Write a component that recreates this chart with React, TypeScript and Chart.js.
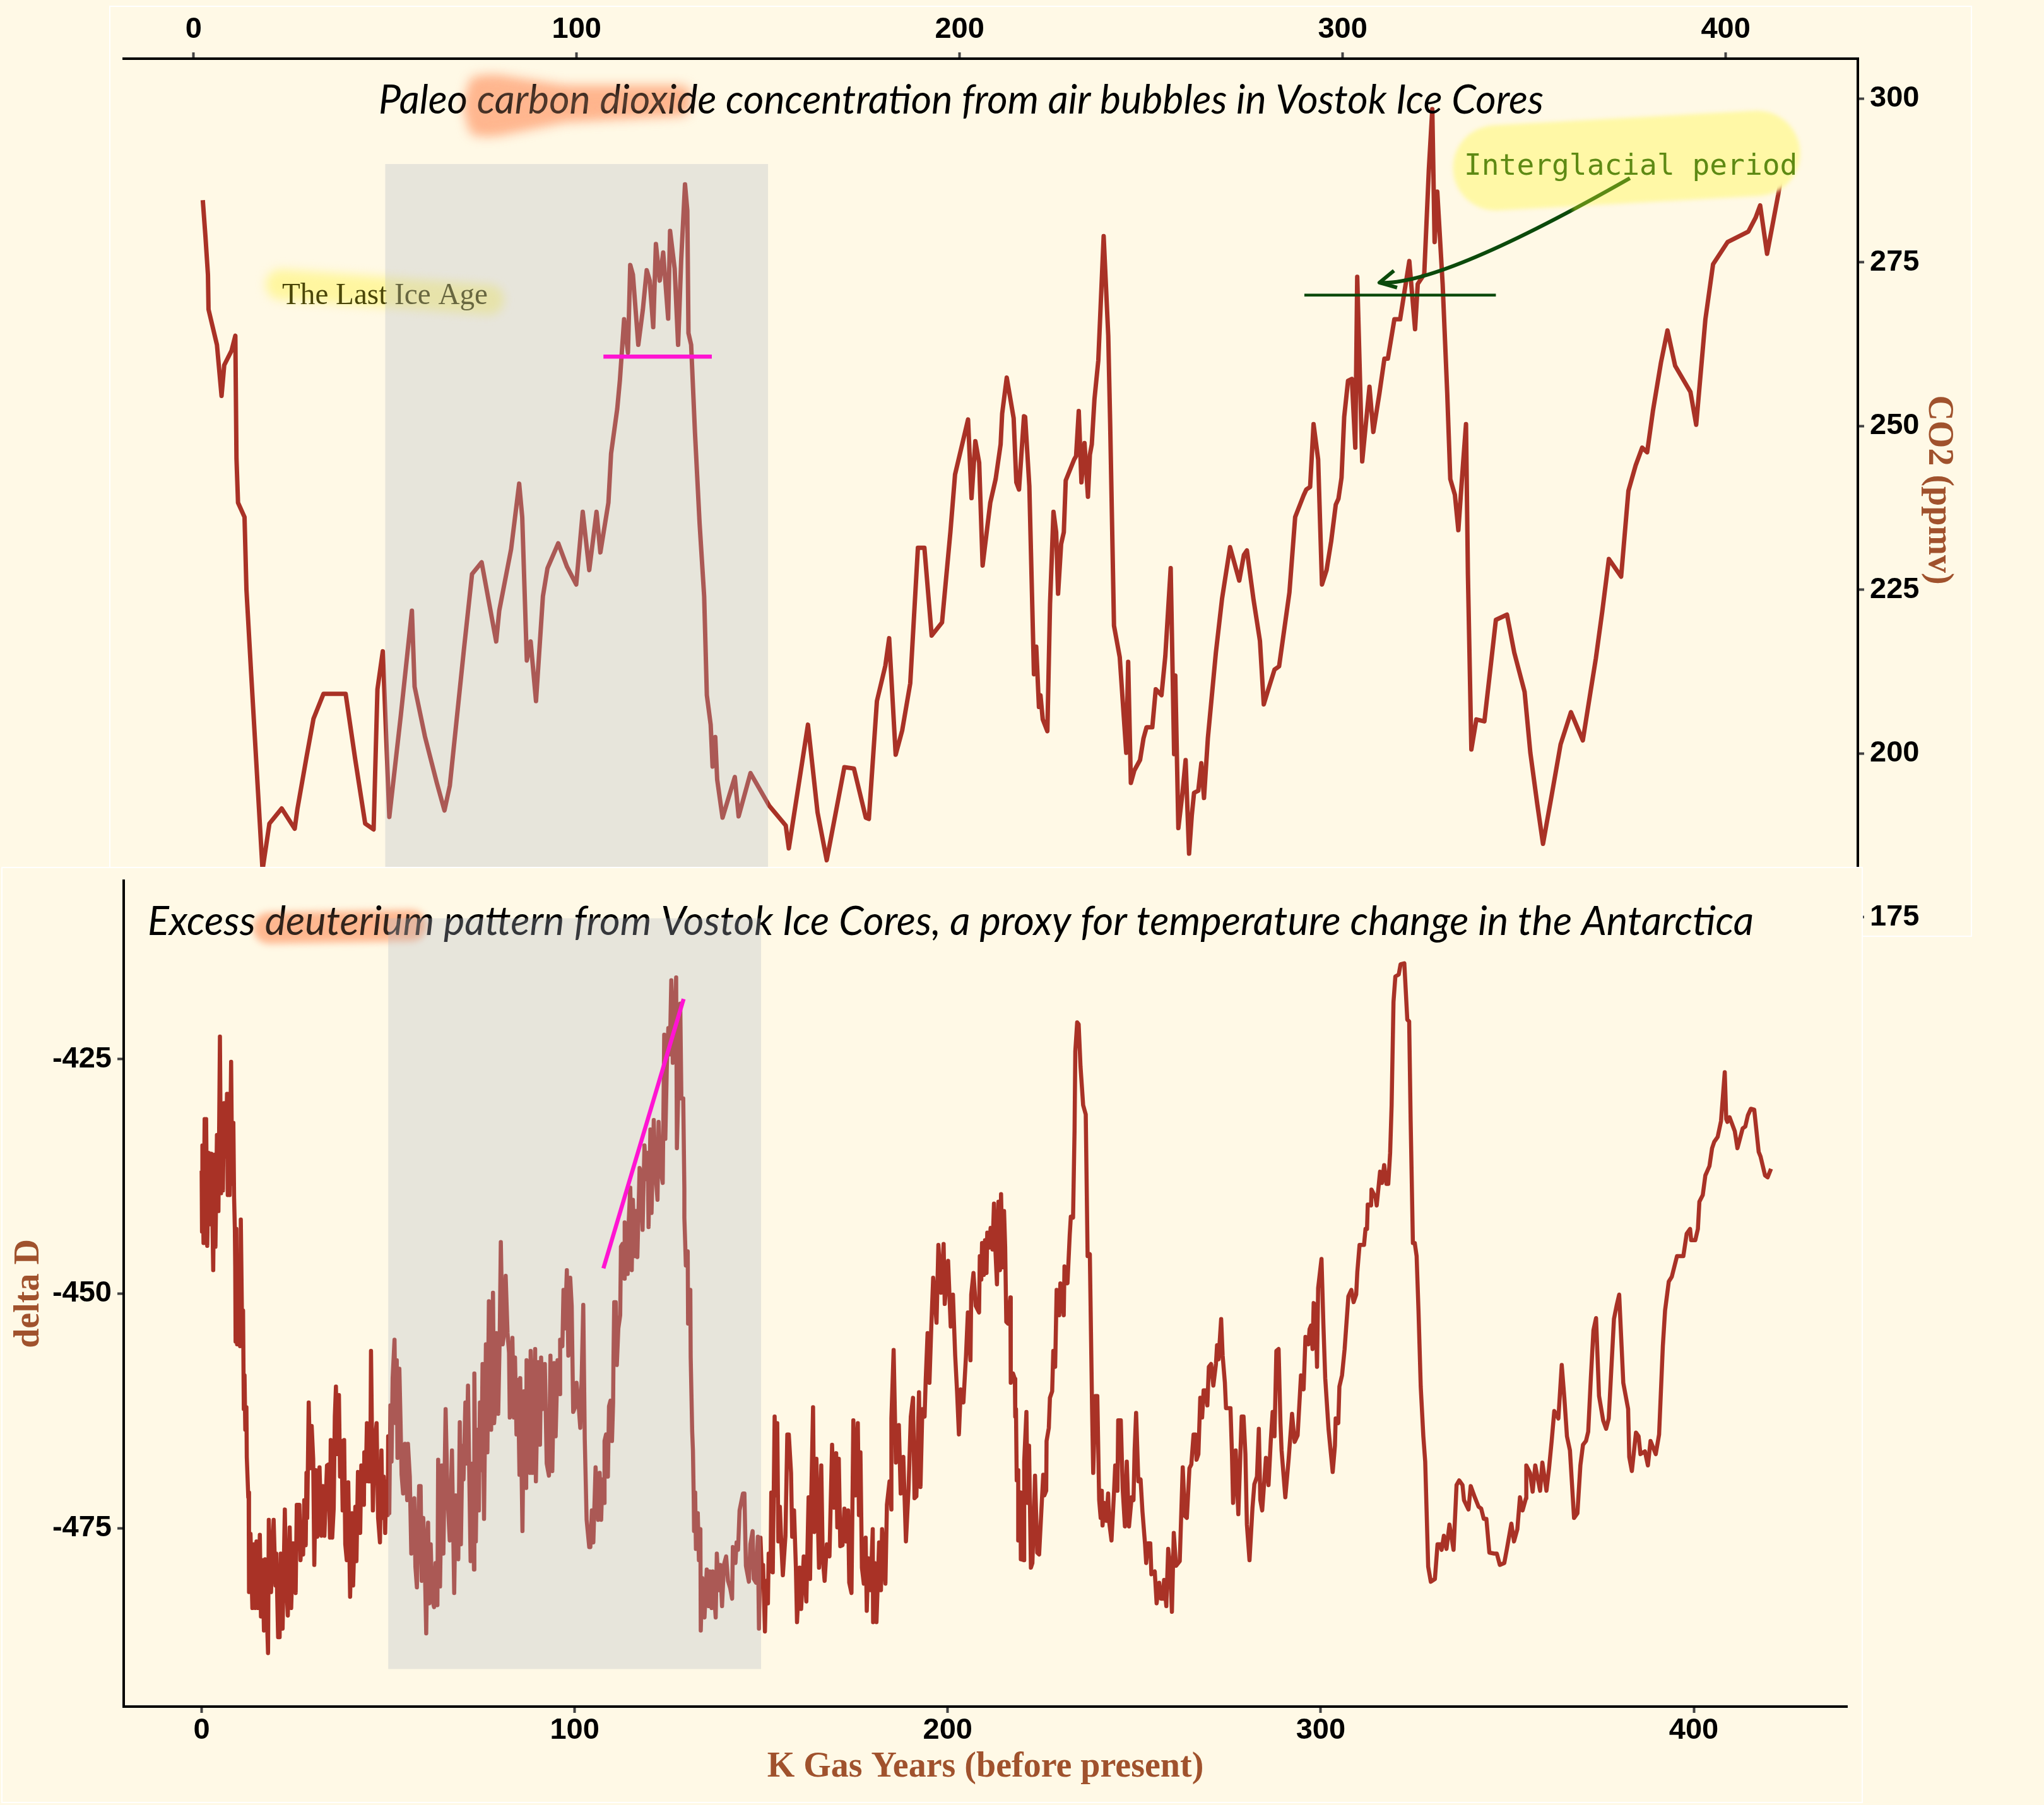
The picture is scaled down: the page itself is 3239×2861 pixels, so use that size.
import React, { useEffect, useRef } from 'react';
import { Chart, registerables } from 'chart.js';

Chart.register(...registerables);

// CO2 (ppmv): [K gas years, ppmv]
const co2Series = [
  [2.4,284.5],[3.1,278.9],[3.75,273.1],[3.9,267.8],[6.1,262.4],[7.3,254.6],[8.0,259.3],[9.9,261.5],[10.9,263.8],[11.2,245],
  [11.6,238.3],[13.3,236.1],[13.8,225],[15,212.5],[18,182.2],[19.8,189.3],[23,191.6],[26.4,188.5],[27.1,191.5],[29.5,199.5],
  [31.3,205.3],[33.9,209.1],[39.7,209.1],[42.2,199.1],[44.8,189.3],[47,188.4],[48,209.8],[49.4,215.6],[51.1,190.3],[54.1,205.8],
  [57,221.8],[57.7,210.2],[60.4,202.6],[63.5,195.5],[65.5,191.3],[66.9,195.1],[70.6,216],[72.7,227.4],[75.2,229.2],[79,217.1],
  [79.8,221.8],[82.9,231.2],[85,241.2],[85.8,236.1],[87,214.2],[88,217.1],[89.4,208],[91.2,224],[92.4,228.3],[95.2,232.1],
  [97.5,228.5],[99.9,225.8],[101.6,236.9],[103.3,228],[105.2,236.9],[106.2,230.7],[108.3,238.3],[109,245.8],[110.6,252.6],[111.3,257],
  [112.4,266.3],[113.4,261.2],[114,274.6],[114.7,273.1],[116.1,262.4],[117.3,267.8],[118.3,273.8],[119.1,272.2],[120,265.1],[120.7,277.8],
  [121.7,272.2],[122.6,276.5],[123.9,266.4],[124.4,279.8],[125.6,274],[126.5,262.4],[127.3,275.3],[128.3,286.9],[128.9,282.9],[129.2,264.2],
  [129.9,262.4],[130.9,249],[132.1,235.2],[133.3,224],[134,208.9],[135,204.4],[135.5,198],[136.2,202.5],[136.7,196],[138.1,190.2],
  [141.3,196.4],[142.3,190.4],[145.4,197],[150.3,192],[154.6,189],[155.4,185.5],[160.4,204.4],[162.9,191],[165.3,183.7],[169.9,197.9],
  [172.4,197.7],[175.5,190.2],[176.3,190],[178.4,208],[180.6,213.4],[181.6,217.6],[183.3,199.8],[185,203.5],[187.1,210.7],[189.1,231.4],
  [190.8,231.4],[192.7,218],[195.4,220],[197.6,233.9],[198.8,242.6],[202.2,251],[203.1,239],[204.1,247.7],[205.1,244.4],[206,228.7],
  [208,238.3],[209.4,241.9],[210.7,247.2],[211.1,251.9],[212.3,257.4],[214.1,251.2],[214.8,241.4],[215.5,240.3],[216.8,251.5],[217.1,251.4],
  [218.2,240.8],[219.4,212.1],[220,216.3],[220.7,207.1],[221.1,208.9],[221.7,205.2],[222.9,203.4],[223.6,222.8],[224.5,236.9],[225.2,233.8],
  [225.7,224.4],[226.5,232],[227.2,233.8],[227.7,241.7],[229.9,244.9],[230.4,245.4],[231.1,252.3],[231.8,241.4],[232.6,247.4],[233.5,239.2],
  [234,245.6],[234.5,247.2],[235.2,254.1],[236.2,260],[237.6,279],[238.8,263.8],[239.3,250.4],[240.3,219.5],[241.8,214.7],[243.5,200.1],
  [244,214],[244.7,195.5],[245.6,197.4],[247.1,199],[248,202.3],[248.8,204],[250.3,204],[251.2,209.8],[252.7,208.9],[253.7,214.9],
  [255.1,228.3],[256,199.9],[256.3,211.9],[257.1,188.6],[258.2,194.1],[259,199],[259.9,184.7],[260.6,190.5],[261.2,194],[262.3,194.3],
  [263.1,198.5],[263.8,193.2],[264.8,202.3],[266.9,215.4],[268.5,223.6],[270.6,231.5],[273,226.4],[274.2,230.3],[275,231],[276.7,223.6],
  [278.4,217.2],[279.4,207.5],[280.6,209.8],[282.2,212.8],[283.4,213.3],[286.1,224.6],[287.6,236.1],[289.8,239.4],[290.5,240.3],[291.5,240.7],
  [292.4,250.3],[293.6,244.9],[294.6,225.8],[295.8,228],[297,232.4],[298.2,238],[298.9,238.9],[299.7,242.1],[300.4,251.4],[301.4,256.9],
  [302.4,257.2],[303.3,246.7],[303.8,272.8],[305.1,244.6],[307,256],[308,249.1],[309.6,255],[310.9,260.3],[311.8,260.3],[313.5,266.3],
  [315,266.3],[317.4,275.2],[318.9,264.8],[319.6,271.7],[321.3,273.2],[322.5,289.2],[323.4,298.4],[324,278.1],[324.7,285.8],[326.1,271.7],
  [327.3,255],[328.1,241.9],[329.3,239.5],[330.2,234.1],[331.4,244],[332.2,250.3],[332.7,227.4],[333.6,200.6],[334.9,205.2],[337,204.9],
  [338.5,212.6],[340,220.4],[342.9,221.2],[344.8,215.4],[347.5,209.4],[349,200.1],[350.8,192.3],[352.3,186.2],[354.5,193.4],[356.9,201.4],
  [359.6,206.3],[362.7,202],[364.7,209.4],[366.1,214.5],[367.8,221.8],[369.5,229.7],[372.7,227],[374.6,240.1],[376.5,244],[378.2,246.7],
  [379.5,246],[381,252.3],[383.1,259.7],[384.8,264.6],[386.8,259.2],[390.8,255.2],[392.3,250.2],[394.7,266.3],[396.7,274.7],[400.5,278.1],
  [405.9,279.7],[407.8,281.8],[409,283.7],[410.8,276.3],[412,280],[413.7,285.3],[415,290],
];

// delta D: [K gas years, delta D]
const deltaSeries = [
  [0,-436.9],[0.1,-443.4],[0.2,-434.2],[0.5,-444.6],[0.8,-431.4],[1,-444.6],[1.2,-431.4],[1.5,-444.9],[1.9,-435],[2.3,-442.6],
  [2.6,-435.1],[3.1,-447.5],[3.4,-435.2],[3.7,-445],[4.1,-433.1],[4.5,-441.2],[4.9,-422.6],[5.2,-439.3],[5.5,-431.7],[5.7,-439],
  [6,-429.7],[6.4,-435.4],[6.8,-428.7],[7,-439.5],[7.3,-428.7],[7.5,-439.5],[7.9,-425.3],[8.2,-438.3],[8.5,-431.8],[8.7,-439.8],
  [8.9,-443.1],[9,-447],[9.1,-455.1],[9.3,-443.1],[9.5,-455.4],[9.7,-448.7],[10,-455.4],[10.2,-448.9],[10.3,-455.6],[10.5,-442.1],
  [10.9,-455.6],[11.1,-451.8],[11.3,-462.3],[11.5,-458.7],[11.7,-464.5],[12,-462.1],[12.1,-467.4],[12.5,-471.7],[12.6,-471.2],[12.7,-481.8],
  [13.1,-475.6],[13.6,-483.5],[14,-476.7],[14.3,-483.5],[14.7,-476.4],[15.1,-483.5],[15.6,-475.7],[15.9,-484.4],[16.3,-478.4],[16.7,-485.9],
  [17,-478.3],[17.8,-488.3],[18,-474.1],[18.6,-481.8],[19.3,-474.1],[19.8,-481.1],[20,-477.7],[20.5,-486.6],[20.9,-486.6],[21.2,-477.7],
  [21.7,-485.7],[22.3,-473],[22.6,-480.1],[23.1,-484.3],[23.6,-474.9],[24,-483.5],[24.5,-476.6],[25.2,-481.9],[25.5,-472.5],[26.2,-472.5],
  [26.5,-478.4],[26.9,-475.1],[27.2,-477.8],[27.5,-472],[27.9,-476.8],[28.1,-469.1],[28.3,-473.9],[28.7,-461.6],[29.1,-468.6],[29.5,-464.1],
  [29.9,-467.6],[30.2,-478.9],[30.6,-468.8],[31,-475.9],[31.6,-468.5],[32.1,-475.8],[32.5,-470.5],[32.9,-475.8],[33.6,-468.3],[34,-468.2],
  [34.4,-476],[34.6,-465.6],[35,-476],[35.4,-472.9],[35.7,-463.1],[36,-459.9],[36.3,-467.1],[36.8,-460.8],[37.1,-469.5],[37.5,-465.7],
  [37.8,-473.1],[38.2,-465.6],[38.5,-476.7],[38.9,-478.4],[39.3,-470.1],[39.8,-482.3],[40.3,-473.4],[40.6,-481.1],[41.2,-472.7],[41.5,-478.5],
  [41.9,-469],[42.2,-472.4],[42.5,-475.5],[42.8,-468.3],[43.5,-472.5],[43.6,-466.9],[44,-470],[44.3,-463.8],[44.7,-470],[45.2,-470],
  [45.4,-456.1],[45.9,-473.1],[46.3,-466.2],[46.9,-463.8],[47.3,-473.9],[47.8,-476.5],[48.2,-466.7],[48.5,-473.9],[48.8,-469.5],[49.2,-475.5],
  [49.5,-470],[49.9,-473.6],[50,-465.2],[50.3,-473.4],[50.6,-461.9],[50.9,-467.9],[51.2,-459],[51.7,-454.9],[52,-463.8],[52.3,-457.1],
  [52.5,-467.5],[53,-458],[53.3,-463.3],[53.6,-469.3],[54,-471.3],[54.5,-466],[55.1,-472],[55.3,-466],[55.8,-469.5],[56.2,-477.7],
  [57,-471.8],[57.3,-479.1],[57.7,-481.3],[58.3,-470.5],[58.7,-470.5],[59,-480.6],[59.4,-473.9],[59.7,-476.5],[60.2,-486.2],[60.5,-476.7],
  [60.7,-474.4],[61,-483],[61.4,-476.7],[61.8,-482.5],[62.3,-483.4],[62.7,-478.7],[63.2,-483.2],[63.4,-467.7],[63.9,-481.2],[64.4,-468.3],
  [64.8,-477.7],[65.4,-462.3],[65.9,-471.5],[66.5,-476.3],[67.1,-466.7],[67.7,-481.9],[68.1,-471.5],[68.8,-478.3],[69.2,-463.7],[69.5,-476.7],
  [69.9,-466.2],[70.2,-469.8],[70.7,-461.6],[71,-468.1],[71.4,-459.8],[71.7,-468.1],[72.1,-478.5],[72.6,-468.1],[73,-479.4],[73.1,-458.5],
  [73.5,-476.4],[73.9,-464.5],[74.3,-473.1],[74.6,-461.6],[75,-468.8],[75.3,-457.5],[75.7,-474],[76.2,-455.4],[76.6,-466.9],[77,-450.8],
  [77.6,-464.5],[78.1,-449.9],[78.4,-463.8],[78.8,-461.4],[79,-454.2],[79.5,-462.8],[79.9,-454.7],[80.2,-444.5],[80.7,-455.4],[81.1,-454.2],
  [81.5,-448.1],[82,-454.2],[82.4,-456.3],[82.6,-463.2],[83.3,-454.7],[83.7,-463.2],[84,-456.8],[84.4,-465],[84.8,-459.2],[85.2,-469.3],
  [85.4,-459],[86,-475.3],[86.4,-460.4],[87,-470.7],[87.1,-457.1],[88,-469.1],[88.2,-456.1],[88.7,-469.1],[89.4,-455.9],[89.6,-470],
  [90.2,-457.3],[90.7,-466.1],[91,-456.8],[91.4,-462.3],[92,-457.5],[92.5,-468.1],[93.1,-469.4],[93.5,-456.6],[94,-468.9],[94.5,-457.4],
  [94.9,-465.2],[95.4,-457.1],[96,-460.7],[96.1,-454.9],[96.7,-455.6],[97,-449.6],[97.4,-453.7],[97.9,-447.5],[98.3,-456.6],[98.8,-448.3],
  [99.2,-451.3],[99.6,-462.6],[100.1,-462.1],[100.5,-459.5],[101,-461.6],[101.5,-464.3],[101.9,-458.5],[102.3,-451.2],[102.7,-465.5],[103.2,-474.1],
  [103.9,-477],[104.2,-477],[104.6,-473.1],[105,-476.5],[105.6,-468.5],[106.3,-474.1],[106.7,-469.1],[107.1,-474.1],[107.4,-469.8],[107.9,-472.3],
  [108,-465.7],[108.4,-465],[108.9,-469.5],[109.2,-462],[109.6,-461.4],[110,-465.7],[110.3,-461.6],[110.4,-456.8],[110.6,-450.9],[111,-450.9],
  [111.3,-457.6],[111.7,-453.7],[112.2,-452.3],[112.4,-445],[112.8,-444.7],[113.3,-448.4],[113.4,-442.4],[113.9,-447.9],[114.2,-447.9],[114.5,-442.2],
  [114.9,-438.7],[115.3,-447.5],[115.6,-440],[116.1,-446],[116.5,-441.2],[116.8,-446.1],[117.4,-436.6],[117.8,-437.4],[118.2,-443.2],[118.7,-434.2],
  [119.2,-437.8],[119.6,-435],[119.8,-442.9],[120.3,-432.5],[120.6,-441.4],[121.2,-431.5],[121.6,-436.8],[122.2,-440],[122.5,-431.7],[122.9,-436.5],
  [123.6,-438.2],[124,-422.4],[124.3,-433.5],[124.7,-425.8],[125.1,-421.7],[125.5,-424.5],[125.9,-416.6],[126.3,-425.4],[126.7,-421.5],[127.2,-416.3],
  [127.4,-434.5],[127.9,-426.3],[128.3,-419.1],[128.6,-429.2],[129.1,-429.2],[129.4,-438.8],[129.4,-441.9],[129.6,-444.3],[129.8,-447],[130.3,-445.5],
  [130.4,-453.2],[131,-449.6],[131.1,-456.8],[131.5,-464.7],[131.7,-466.7],[131.9,-471.5],[132,-475.3],[132.3,-471.2],[132.5,-477.2],[133,-473.4],
  [133.3,-478.4],[133.7,-475.1],[133.8,-485.9],[134.2,-480.3],[134.8,-484.5],[135.4,-479.4],[135.9,-483.3],[136.2,-479.6],[136.7,-483.5],[137,-479.6],
  [137.8,-484.5],[138.1,-477.7],[138.6,-481.6],[139,-478.9],[139.5,-483.3],[140,-478.9],[140.6,-478],[141.1,-480.6],[141.7,-481.4],[142.2,-482.5],
  [142.4,-477],[143.1,-478.7],[143.4,-476.5],[143.8,-477.3],[144.2,-473.1],[145.1,-471.3],[145.5,-471.3],[145.9,-479],[146.7,-480.7],[147.1,-476.7],
  [147.7,-475.3],[148,-480.4],[148.6,-480.8],[149.1,-475.9],[149.4,-485.7],[149.8,-476],[150.1,-478.9],[150.5,-478.9],[151,-486],[151.3,-480.6],
  [151.8,-483],[152,-477.7],[152.5,-479.6],[152.7,-471.2],[153.1,-479.7],[153.6,-463.1],[154,-471.5],[154.3,-463.8],[154.6,-476.4],[155,-472.7],
  [155.4,-476.7],[155.8,-480],[156.5,-475.8],[157,-465],[157.4,-465],[158,-469.1],[158.3,-475.9],[158.8,-473.1],[159.3,-479.2],[159.6,-485],
  [160.3,-479.2],[160.7,-483.6],[161.4,-478],[162.1,-482.8],[162.7,-471.7],[163.1,-480.4],[163.4,-472],[163.9,-462.1],[164.2,-475.4],[164.8,-467.6],
  [165.5,-479.2],[166.1,-468.3],[166.5,-478.2],[167,-480.6],[167.6,-476.7],[168.3,-478],[169,-466.1],[169.5,-472.8],[170.1,-467],[170.4,-474.9],
  [170.8,-467.6],[171.2,-476.9],[171.8,-476.8],[172.3,-472.9],[172.8,-476.4],[173.3,-473.1],[173.6,-480.8],[174.2,-481.9],[174.7,-463.5],[175.2,-471.5],
  [175.9,-463.8],[176.2,-473.6],[176.6,-466.9],[177,-479.2],[177.5,-480.9],[178,-476],[178.3,-483.8],[178.7,-478.2],[179.3,-481.6],[179.9,-475.1],
  [180,-485],[180.4,-478.7],[180.9,-485],[181.6,-476.5],[182.1,-481.6],[182.4,-475.1],[183.3,-480.9],[183.7,-472.5],[184.4,-470],[184.9,-473],
  [184.9,-463.3],[185.5,-456],[186.1,-468],[186.9,-464],[187.4,-471.3],[188.1,-467.4],[188.8,-476.4],[189.5,-470.8],[190.1,-463.1],[190.7,-461.1],
  [191.1,-471.8],[191.6,-471.6],[192.3,-460.5],[192.7,-470.6],[193.2,-462.3],[193.8,-463.1],[194.1,-459.2],[194.6,-454.2],[195.1,-459.5],[195.6,-453.5],
  [196.1,-448.3],[197,-453.1],[197.5,-444.8],[198.2,-449.9],[198.9,-444.7],[199.2,-451.1],[200.1,-446.5],[200.8,-453.5],[201.4,-450.1],[202,-456.6],
  [202.5,-460.4],[203,-465],[203.5,-460.2],[204.2,-461.6],[204.9,-456.6],[205.4,-452],[206.1,-457.1],[206.3,-450.1],[206.9,-447.8],[207.5,-451.3],
  [208.4,-452],[208.6,-446],[209,-448.5],[209.2,-444.6],[209.7,-448],[210,-444.3],[210.4,-447.8],[210.6,-443.5],[211.1,-445.1],[211.5,-443],
  [212,-445.3],[212.4,-440.4],[212.8,-445.5],[213.2,-449],[213.6,-440.2],[214,-447.5],[214.3,-439.4],[214.7,-447.2],[215.1,-441.2],[215.4,-445],
  [215.7,-453],[216.2,-453.2],[216.8,-450.4],[216.9,-459.5],[217.5,-458.5],[218,-459.1],[218.1,-463.1],[218.3,-462.3],[218.5,-469.9],[218.9,-468.8],
  [218.9,-476.3],[219.5,-471.2],[219.6,-478.3],[220.4,-478.4],[220.5,-467.9],[221.1,-462.6],[221.4,-472.3],[221.8,-466.2],[222.3,-479.2],[222.7,-478.7],
  [223.4,-469.4],[224,-477.6],[224.5,-477.8],[225.6,-469.3],[225.9,-471.5],[226.4,-471],[226.5,-465.7],[227.1,-464.3],[227.4,-461.1],[228,-460.4],
  [228.3,-456.1],[228.8,-457.8],[229.2,-449.6],[229.9,-452.3],[230.2,-448.9],[231.1,-452.3],[231.3,-447.1],[232.1,-448.9],[232.7,-443.8],[233,-441.8],
  [233.6,-441.9],[234,-432.6],[234.2,-424.2],[234.7,-421.1],[235.1,-421.3],[235.6,-425.8],[236.3,-429.9],[237,-430.9],[237.5,-446],[238.1,-445.8],
  [238.7,-462.3],[239,-469.1],[239.6,-460.9],[240.1,-460.9],[240.6,-472],[241,-473.9],[241.3,-471],[241.5,-474.7],[242,-472.3],[242.5,-474.2],
  [243,-471.3],[243.3,-474.4],[243.9,-476.3],[244.6,-471],[244.9,-468.3],[245.5,-471],[245.7,-463.5],[246.4,-463.5],[246.9,-470.8],[247.5,-474.8],
  [248,-467.9],[248.6,-474.8],[249.3,-471.7],[249.8,-472],[250.1,-466.7],[250.5,-462.7],[251.1,-470],[251.7,-469.8],[252.2,-473.2],[252.9,-476.7],
  [253.2,-478.7],[253.7,-476.6],[254.3,-476.6],[254.6,-479.9],[255.5,-479.6],[256,-483],[256.7,-480.8],[257.2,-482.5],[257.7,-482.5],[258,-480.5],
  [258.6,-483.3],[259.1,-477.2],[259.6,-478.9],[260.1,-483.9],[260.6,-475.5],[261.2,-479],[262.2,-478.5],[263,-468.5],[263.6,-473.7],[264.1,-473.9],
  [264.8,-468.6],[265.3,-468.2],[265.9,-465],[266.4,-465],[266.7,-467.7],[267.2,-467.1],[267.7,-461.1],[268.2,-463.2],[268.6,-460.3],[269.1,-460.3],
  [269.6,-461.9],[270,-457.8],[270.6,-457.5],[271.2,-459.8],[271.9,-457.5],[272.2,-455.5],[272.6,-457],[273.3,-452.7],[273.7,-456.6],[274.3,-459.5],
  [274.6,-462.2],[275.8,-462.2],[276.2,-467.1],[276.5,-472.3],[277.2,-466.7],[277.9,-473.5],[278.8,-463.1],[279.3,-463.1],[279.8,-467.1],[280.2,-474.6],
  [280.9,-478.4],[281.7,-472.8],[282.2,-470.3],[282.9,-469.5],[283.4,-464.4],[283.8,-472],[284.3,-473.1],[285.3,-467.5],[286,-470.4],[286.6,-465.7],
  [287.1,-462.6],[287.6,-465.2],[288.1,-456.1],[288.7,-455.9],[289.2,-463.8],[289.5,-466.7],[290.5,-471.7],[291.4,-467.6],[292.3,-462.8],[293,-465.8],
  [293.8,-465.1],[294.7,-458.7],[295.4,-460.2],[295.9,-454.6],[296.7,-455.4],[297,-453.8],[297.4,-453.4],[297.8,-455.9],[298.1,-451],[298.6,-451.3],
  [299,-457.8],[299.3,-449.4],[300.2,-446.3],[300.7,-453.2],[301.2,-459],[302.1,-464.5],[303.2,-469],[303.8,-466.2],[304,-463.3],[304.7,-463.8],
  [305,-459.9],[305.7,-458.7],[306.4,-455.9],[307.4,-450.3],[308.2,-449.6],[308.8,-450.9],[309.5,-450.1],[309.8,-447.7],[310.4,-444.8],[311.6,-444.8],
  [312,-443.1],[312.4,-443.1],[312.6,-440.5],[313.5,-440.6],[313.6,-438.9],[314.7,-439.8],[315,-440.6],[315.5,-438.6],[315.9,-437],[316.4,-438.2],
  [317,-436.3],[317.6,-438.3],[318.1,-438.3],[318.6,-435],[319,-429.9],[319.5,-418.9],[320,-416.2],[320.9,-416],[321.4,-414.9],[322.4,-414.8],
  [323.2,-420.8],[323.7,-421],[324.1,-431.6],[324.7,-444.6],[325.2,-444.6],[325.7,-446],[326.2,-451.8],[326.8,-459.9],[327.5,-465.2],[328,-467.9],
  [328.8,-479.1],[329.5,-480.7],[330.6,-480.4],[331.3,-476.7],[332,-476.7],[332.4,-477.3],[333,-475.8],[333.7,-477.2],[334.5,-474.6],[335.6,-477.3],
  [336.4,-470.4],[337.1,-469.9],[338,-470.4],[338.4,-472],[339.6,-473],[340.2,-470.5],[341.3,-471.7],[342.3,-472.7],[343,-472.9],[343.7,-474],
  [344.4,-474],[345.2,-477.6],[346.5,-477.7],[347.2,-477.7],[348,-478.9],[349.2,-478.7],[349.9,-477.2],[351.1,-474.5],[351.8,-476.4],[352.7,-475.1],
  [353.4,-471.7],[354.1,-473.1],[355,-471.8],[355.1,-468.3],[356.1,-469.1],[356.8,-471.1],[357.5,-468.3],[358.8,-471],[359.4,-468],[360.5,-471],
  [361.2,-468.6],[361.9,-465.7],[362.6,-462.5],[363.7,-463.3],[364.6,-457.6],[365.3,-461.1],[366,-465.2],[366.8,-466.7],[367.9,-473.9],[368.8,-473.4],
  [369.6,-468.3],[370.3,-466.1],[371.1,-465.7],[371.7,-464.7],[372.4,-459],[373.1,-453.9],[373.8,-452.6],[374.6,-460.9],[375.7,-463.5],[376.5,-464.4],
  [377.2,-463.3],[378.6,-452.7],[379.3,-451.3],[380,-450.1],[381.1,-459.5],[382.4,-462.3],[382.7,-467.4],[383.4,-468.9],[384.5,-464.8],[385.2,-465.2],
  [385.7,-467.1],[386.9,-466.8],[387.7,-468.3],[388.4,-465.7],[389.8,-467.1],[390.7,-465],[391.7,-455.6],[392.3,-451.8],[393.3,-448.7],[394.1,-448.2],
  [395.5,-446],[397.2,-446],[398.1,-443.6],[399,-443.1],[399.3,-444.3],[400.4,-444.3],[401.1,-443.1],[401.5,-440.2],[402.4,-439.5],[403.1,-437.4],
  [404.2,-436.4],[404.9,-434.5],[405.5,-433.8],[406.4,-433.3],[407.3,-431.6],[408.3,-426.4],[408.7,-431.4],[409,-431.7],[409.6,-431.2],[411,-432.7],
  [411.7,-434.5],[413.1,-432.4],[413.8,-432.2],[414.5,-431],[415.3,-430.3],[416.2,-430.4],[417.4,-434.9],[417.9,-435.4],[419.1,-437.4],[419.8,-437.6],
  [420.7,-436.7],
];

const xTicks = [0, 100, 200, 300, 400];
const co2Ticks = [175, 200, 225, 250, 275, 300];
const deltaTicks = [-475, -450, -425];

const bandAges = [50, 150];
const co2Band = [290, 175];
const deltaBand = [-410, -490];
const co2MagentaX = [107, 135.3];
const co2MagentaY = [260.6, 260.6];
const co2GreenX = [290, 340];
const co2GreenY = [270, 270];
const deltaMagentaX = [107.7, 129.2];
const deltaMagentaY = [-447.3, -418.6];

const LINE = '#A93226';
const BAND = 'rgba(176,183,194,0.3)';
const MAGENTA = '#FF14D2';
const GREEN = '#0B4A0B';
const BG = '#FFF9E6';
const TITLE_BROWN = '#A0522D';
const ORANGE = '#FFB48C';
const YELLOW = '#FFF8A6';

const pairs = (xs: number[], ys: number[]) => xs.map((x, i) => ({ x, y: ys[i] }));
const toXY = (rows: number[][]) => rows.map(([x, y]) => ({ x, y }));

// soft marker stroke behind a piece of text
function smear(ctx: CanvasRenderingContext2D, pts: number[][], color: string, alpha: number, blur: number, width: number, closed = false) {
  ctx.save();
  ctx.filter = `blur(${blur}px)`;
  ctx.globalAlpha = alpha;
  ctx.strokeStyle = color;
  ctx.fillStyle = color;
  ctx.lineWidth = width;
  ctx.lineCap = 'round';
  ctx.lineJoin = 'round';
  ctx.beginPath();
  pts.forEach(([x, y], i) => (i ? ctx.lineTo(x, y) : ctx.moveTo(x, y)));
  if (closed) {
    ctx.closePath();
    ctx.fill();
  }
  ctx.stroke();
  ctx.restore();
}

function writeText(ctx: CanvasRenderingContext2D, text: string, x: number, y: number, font: string, color: string, width?: number) {
  ctx.save();
  ctx.font = font;
  ctx.fillStyle = color;
  ctx.textAlign = 'left';
  ctx.textBaseline = 'alphabetic';
  if (width) ctx.fillText(text, x, y, width);
  else ctx.fillText(text, x, y);
  ctx.restore();
}

const TITLE_FONT = 'italic 64px Lato';

const topNotes = {
  id: 'topNotes',
  afterDatasetDraw(chart: any, args: any) {
    if (args.index !== 0) return;
    const ctx = chart.ctx;
    const sx = chart.scales.x;
    const sy = chart.scales.y;

    const orangeBlob = [[584, 128], [610, 126], [720, 143], [905, 143], [905, 160], [720, 170], [610, 192], [584, 192], [576, 160]];
    smear(ctx, orangeBlob, ORANGE, 0.95, 9, 30, true);
    writeText(ctx, 'Paleo carbon dioxide concentration from air bubbles in Vostok Ice Cores', 426, 172, TITLE_FONT, '#000', 1846);
    smear(ctx, orangeBlob, ORANGE, 0.2, 9, 30, true);

    smear(ctx, [[271, 443], [601, 467]], '#FFF6A0', 1, 8, 48);
    writeText(ctx, 'The Last Ice Age', 273, 474, '48px "Liberation Serif"', '#4A4608', 326);

    smear(ctx, [[2196, 258], [2611, 235]], YELLOW, 1, 3, 135);

    // arrow starts inside the marker, where it reads lighter
    const ax = sx.getPixelForValue(375), ay = sy.getPixelForValue(287.85);
    const bx = sx.getPixelForValue(309.6), by = sy.getPixelForValue(271.9);
    const cx = sx.getPixelForValue(325.3), cy = sy.getPixelForValue(271.3);
    const grad = ctx.createLinearGradient(ax, ay, bx, by);
    grad.addColorStop(0, '#5C8A14');
    grad.addColorStop(0.23, '#5C8A14');
    grad.addColorStop(0.25, GREEN);
    grad.addColorStop(1, GREEN);
    ctx.save();
    ctx.strokeStyle = grad;
    ctx.lineWidth = 6;
    ctx.beginPath();
    ctx.moveTo(ax, ay);
    ctx.quadraticCurveTo(cx, cy, bx, by);
    ctx.stroke();
    ctx.strokeStyle = GREEN;
    ctx.lineJoin = 'round';
    ctx.beginPath();
    ctx.moveTo(bx + 23, by - 19);
    ctx.lineTo(bx, by);
    ctx.lineTo(bx + 28, by + 8);
    ctx.stroke();
    ctx.restore();

    writeText(ctx, 'Interglacial period', 2146, 269, '46.2px "DejaVu Sans Mono"', '#5E8A14', 529);
  },
};

const bottomNotes = {
  id: 'bottomNotes',
  afterDatasetDraw(chart: any, args: any) {
    if (args.index !== 0) return;
    const ctx = chart.ctx;
    const blob = [[424, 97], [650, 93]];
    smear(ctx, blob, ORANGE, 0.95, 6, 48);
    writeText(ctx, 'Excess deuterium pattern from Vostok Ice Cores, a proxy for temperature change in the Antarctica', 232, 108, TITLE_FONT, '#000', 2545);
    smear(ctx, blob, ORANGE, 0.2, 6, 48);
  },
};

const TICK_FONT = { family: '"Liberation Sans"', size: 47, weight: 'bold' as const };
const AXIS_FONT = { family: '"Liberation Serif"', size: 56, weight: 'bold' as const };

const axisBase = {
  grid: { drawOnChartArea: false, drawTicks: true, tickLength: 10, tickWidth: 4, tickColor: '#444', color: '#444' },
  border: { display: true, color: '#000', width: 4 },
};

const useTicks = (list: number[]) => (scale: any) => {
  scale.ticks = list.map((value) => ({ value }));
};

// fixed axis boxes, so the plot sits where the reference has it
const fixHeight = (h: number) => (s: any) => {
  s.height = h;
  s.paddingLeft = 0;
  s.paddingRight = 0;
};
const fixWidth = (w: number) => (s: any) => {
  s.width = w;
  s.paddingTop = 0;
  s.paddingBottom = 0;
};

const tickOpts = (padding: number) => ({ color: '#000', font: TICK_FONT, autoSkip: false, maxRotation: 0, padding });

const TopChart = () => {
  const ref = useRef<HTMLCanvasElement>(null);
  useEffect(() => {
    if (!ref.current) return;
    const chart = new Chart(ref.current, {
      type: 'scatter',
      data: {
        datasets: [
          { data: toXY(co2Series), showLine: true, borderColor: LINE, borderWidth: 7, pointRadius: 0, borderJoinStyle: 'round', order: 3 },
          { data: pairs(bandAges, [co2Band[0], co2Band[0]]), showLine: true, borderWidth: 0, borderColor: 'transparent', pointRadius: 0, backgroundColor: BAND, fill: { value: co2Band[1] }, order: 2 },
          { data: pairs(co2MagentaX, co2MagentaY), showLine: true, borderColor: MAGENTA, borderWidth: 6.5, pointRadius: 0, order: 1 },
          { data: pairs(co2GreenX, co2GreenY), showLine: true, borderColor: GREEN, borderWidth: 4.5, pointRadius: 0, order: 1 },
        ],
      } as any,
      options: {
        animation: false,
        responsive: false,
        layout: { padding: { left: 22, bottom: 23, top: 0, right: 0 } },
        plugins: { legend: { display: false }, tooltip: { enabled: false } },
        scales: {
          x: {
            type: 'linear',
            position: 'top',
            min: -18.25,
            max: 434.5,
            ...axisBase,
            ticks: tickOpts(8),
            afterBuildTicks: useTicks(xTicks),
            afterFit: fixHeight(85),
          },
          y: {
            type: 'linear',
            position: 'right',
            min: 174.4,
            max: 306.1,
            ...axisBase,
            ticks: tickOpts(9),
            afterBuildTicks: useTicks(co2Ticks),
            afterFit: fixWidth(182),
            title: { display: true, text: 'CO2 (ppmv)', color: TITLE_BROWN, font: AXIS_FONT, padding: { top: 21, bottom: 0 } },
          },
        },
      } as any,
      plugins: [topNotes],
    });
    return () => chart.destroy();
  }, []);
  return <canvas ref={ref} width={2952} height={1475} style={{ position: 'absolute', left: 174, top: 8 }} />;
};

const BottomChart = () => {
  const ref = useRef<HTMLCanvasElement>(null);
  useEffect(() => {
    if (!ref.current) return;
    const chart = new Chart(ref.current, {
      type: 'scatter',
      data: {
        datasets: [
          { data: toXY(deltaSeries), showLine: true, borderColor: LINE, borderWidth: 6.5, pointRadius: 0, borderJoinStyle: 'round', order: 3 },
          { data: pairs(bandAges, [deltaBand[0], deltaBand[0]]), showLine: true, borderWidth: 0, borderColor: 'transparent', pointRadius: 0, backgroundColor: BAND, fill: { value: deltaBand[1] }, order: 2 },
          { data: pairs(deltaMagentaX, deltaMagentaY), showLine: true, borderColor: MAGENTA, borderWidth: 6.5, pointRadius: 0, order: 1 },
        ],
      } as any,
      options: {
        animation: false,
        responsive: false,
        layout: { padding: { left: 0, bottom: 0, top: 22, right: 27 } },
        plugins: { legend: { display: false }, tooltip: { enabled: false } },
        scales: {
          x: {
            type: 'linear',
            min: -20.9,
            max: 441.1,
            ...axisBase,
            ticks: tickOpts(0),
            afterBuildTicks: useTicks(xTicks),
            afterFit: fixHeight(152),
            title: { display: true, text: 'K Gas Years (before present)', color: TITLE_BROWN, font: AXIS_FONT, padding: { top: 0, bottom: 22 } },
          },
          y: {
            type: 'linear',
            min: -494,
            max: -406,
            ...axisBase,
            ticks: tickOpts(9),
            afterBuildTicks: useTicks(deltaTicks),
            afterFit: fixWidth(194),
            title: { display: true, text: 'delta D', color: TITLE_BROWN, font: AXIS_FONT, padding: { top: 11, bottom: 0 } },
          },
        },
      } as any,
      plugins: [bottomNotes],
    });
    return () => chart.destroy();
  }, []);
  return <canvas ref={ref} width={2952} height={1483} style={{ position: 'absolute', left: 2, top: 1374 }} />;
};

const panelStyle = (left: number, top: number, width: number, height: number): React.CSSProperties => ({
  position: 'absolute',
  left,
  top,
  width,
  height,
  boxSizing: 'border-box',
  border: '2px solid #FFFFFF',
  background: BG,
});

export default function App() {
  useEffect(() => {
    document.body.style.margin = '0';
    document.body.style.background = BG;
  }, []);
  return (
    <div style={{ position: 'relative', width: 3239, height: 2861, overflow: 'hidden', background: BG }}>
      <div style={panelStyle(173, 9, 2952, 1476)} />
      <TopChart />
      <div style={panelStyle(2, 1374, 2950, 1484)} />
      <BottomChart />
    </div>
  );
}
